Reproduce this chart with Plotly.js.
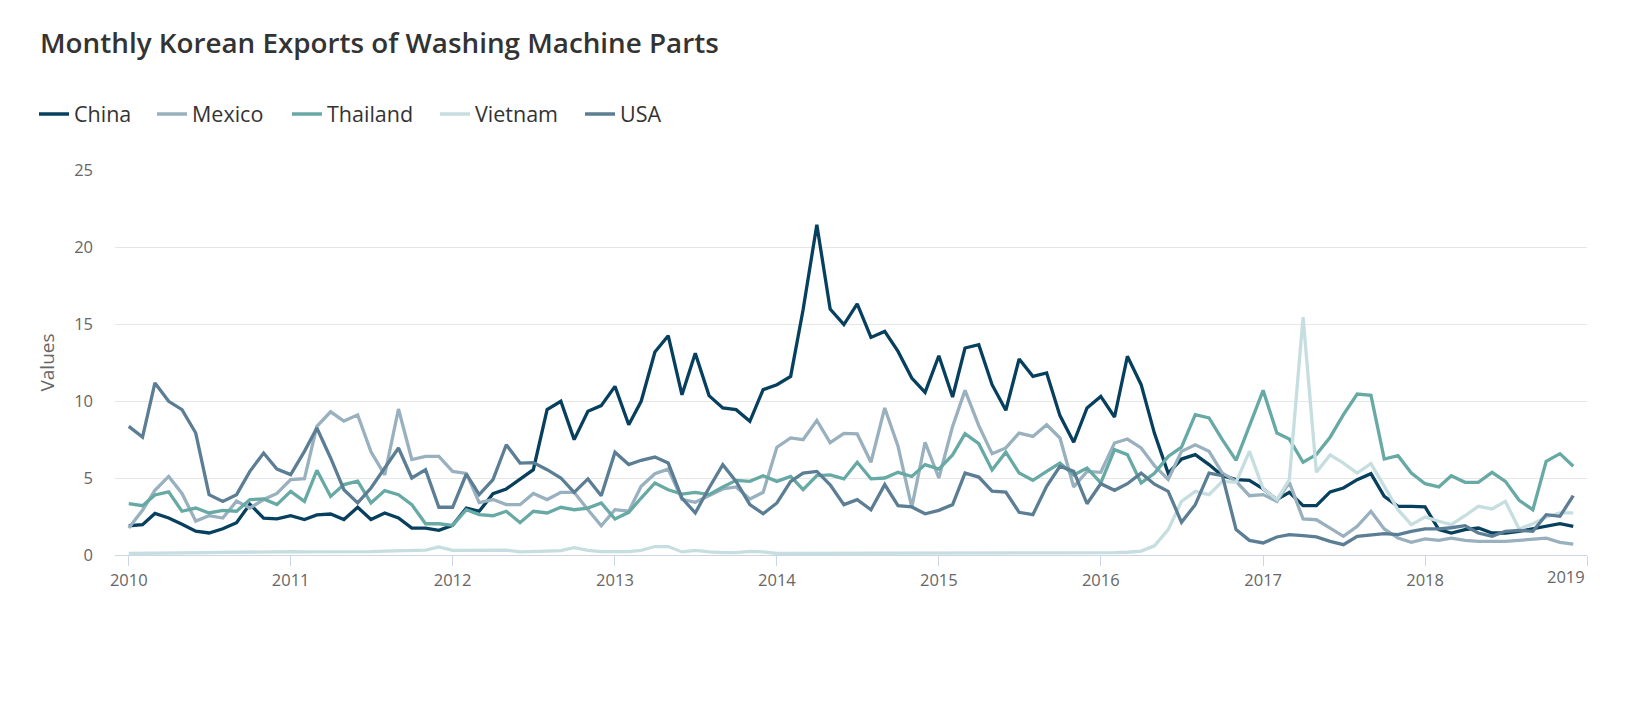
<!DOCTYPE html>
<html>
<head>
<meta charset="utf-8">
<script src="https://cdn.plot.ly/plotly-3.0.1.min.js"></script>
<style>
html,body{margin:0;padding:0;background:#fff;}
#chart{width:1626px;height:710px;}
</style>
</head>
<body>
<div id="chart"></div>
<script>
// Monthly series, Jan 2010 .. Dec 2018
var startYear = 2010;
var seriesNames = ["China", "Mexico", "Thailand", "Vietnam", "USA"];
var seriesColors = ["#07405e", "#99b0be", "#67a9a4", "#c6dedf", "#5b7e95"];
var yearTicks = ["2010", "2011", "2012", "2013", "2014", "2015", "2016", "2017", "2018", "2019"];

var china = [
  1.9, 1.97, 2.7, 2.4, 2.0, 1.55, 1.43, 1.7, 2.1, 3.3, 2.4, 2.34,
  2.55, 2.3, 2.6, 2.66, 2.3, 3.1, 2.3, 2.73, 2.4, 1.75, 1.75, 1.6,
  1.93, 3.05, 2.84, 3.98, 4.29, 4.94, 5.54, 9.44, 9.98, 7.49, 9.33, 9.7,
  10.95, 8.46, 9.98, 13.18, 14.24, 10.4, 13.1, 10.35, 9.55, 9.44, 8.68, 10.74,
  11.06, 11.6, 15.93, 21.45, 15.97, 14.96, 16.3, 14.13, 14.52, 13.22, 11.49, 10.56,
  12.94, 10.26, 13.44, 13.66, 11.06, 9.4, 12.73, 11.6, 11.82, 9.05, 7.32, 9.55,
  10.3, 8.96, 12.9, 11.06, 7.9, 5.3, 6.23, 6.52, 5.87, 5.15, 4.89, 4.85,
  4.29, 3.6, 4.07, 3.2, 3.2, 4.1, 4.35, 4.89, 5.28, 3.81, 3.16, 3.16,
  3.12, 1.65, 1.43, 1.65, 1.75, 1.43, 1.43, 1.54, 1.69, 1.86, 2.03, 1.86
];
var mexico = [
  1.75, 2.9, 4.2, 5.1, 4.0, 2.2, 2.55, 2.4, 3.5, 3.05, 3.6, 4.0,
  4.9, 4.95, 8.35, 9.3, 8.7, 9.1, 6.7, 5.2, 9.48, 6.2, 6.4, 6.4,
  5.43, 5.3, 3.4, 3.6, 3.27, 3.27, 4.0, 3.6, 4.07, 4.07, 2.94, 1.9,
  2.94, 2.84, 4.46, 5.28, 5.58, 3.62, 3.42, 3.85, 4.29, 4.42, 3.64, 4.07,
  7.0, 7.6, 7.49, 8.74, 7.3, 7.9, 7.86, 6.02, 9.55, 7.06, 3.1, 7.32,
  5.0, 8.35, 10.69, 8.4, 6.58, 6.95, 7.92, 7.7, 8.46, 7.6, 4.42, 5.43,
  5.37, 7.27, 7.53, 6.95, 5.8, 4.9, 6.73, 7.16, 6.73, 5.32, 4.78, 3.85,
  3.92, 3.48, 4.72, 2.34, 2.29, 1.75, 1.21, 1.86, 2.84, 1.69, 1.1, 0.82,
  1.04, 0.95, 1.1, 0.95, 0.89, 0.89, 0.89, 0.95, 1.04, 1.1, 0.82, 0.71
];
var thailand = [
  3.33, 3.2, 3.9, 4.1, 2.84, 3.05, 2.73, 2.9, 2.84, 3.6, 3.64, 3.27,
  4.13, 3.48, 5.5, 3.8, 4.57, 4.8, 3.38, 4.18, 3.92, 3.27, 2.03, 2.03,
  1.93, 2.94, 2.62, 2.55, 2.84, 2.1, 2.84, 2.73, 3.1, 2.94, 3.05, 3.38,
  2.34, 2.77, 3.7, 4.68, 4.24, 3.95, 4.07, 3.92, 4.42, 4.85, 4.78, 5.15,
  4.78, 5.1, 4.24, 5.15, 5.2, 4.94, 6.02, 4.94, 5.0, 5.37, 5.1, 5.87,
  5.58, 6.5, 7.88, 7.23, 5.52, 6.68, 5.32, 4.85, 5.43, 5.97, 5.2, 5.65,
  4.68, 6.84, 6.52, 4.68, 5.3, 6.4, 7.0, 9.11, 8.9, 7.49, 6.15, 8.35,
  10.69, 7.92, 7.53, 6.02, 6.52, 7.65, 9.11, 10.45, 10.37, 6.23, 6.45, 5.32,
  4.63, 4.42, 5.15, 4.72, 4.72, 5.37, 4.78, 3.55, 2.94, 6.08, 6.58, 5.76
];
var vietnam = [
  0.1, 0.1, 0.12, 0.12, 0.13, 0.14, 0.15, 0.17, 0.18, 0.2, 0.22, 0.25,
  0.22, 0.2, 0.2, 0.2, 0.18, 0.2, 0.22, 0.25, 0.28, 0.28, 0.32, 0.53,
  0.3, 0.3, 0.3, 0.32, 0.32, 0.2, 0.25, 0.25, 0.28, 0.48, 0.3, 0.22,
  0.22, 0.22, 0.3, 0.55, 0.55, 0.2, 0.3, 0.2, 0.16, 0.16, 0.23, 0.2,
  0.1, 0.1, 0.1, 0.1, 0.12, 0.12, 0.12, 0.13, 0.1, 0.1, 0.12, 0.12,
  0.15, 0.12, 0.1, 0.1, 0.1, 0.12, 0.1, 0.1, 0.12, 0.12, 0.12, 0.15,
  0.15, 0.15, 0.18, 0.25, 0.6, 1.65, 3.48, 4.13, 3.92, 4.78, 4.72, 6.73,
  4.3, 3.6, 4.9, 15.45, 5.37, 6.5, 5.97, 5.32, 5.93, 4.46, 2.94, 1.97,
  2.47, 2.19, 1.97, 2.55, 3.16, 2.99, 3.48, 1.69, 2.03, 2.47, 2.73, 2.73
];
var usa = [
  8.35, 7.66, 11.17, 9.98, 9.44, 7.92, 3.92, 3.48, 3.92, 5.43, 6.62, 5.58,
  5.22, 6.73, 8.25, 6.3, 4.24, 3.38, 4.35, 5.65, 6.95, 5.0, 5.54, 3.1,
  3.1, 5.26, 3.92, 4.9, 7.16, 5.97, 6.0, 5.54, 5.0, 4.07, 4.94, 3.85,
  6.67, 5.87, 6.15, 6.36, 5.97, 3.7, 2.73, 4.35, 5.87, 4.78, 3.27, 2.68,
  3.38, 4.78, 5.32, 5.43, 4.55, 3.27, 3.59, 2.94, 4.57, 3.2, 3.12, 2.68,
  2.9, 3.27, 5.32, 5.06, 4.15, 4.08, 2.77, 2.62, 4.46, 5.76, 5.43, 3.33,
  4.63, 4.2, 4.63, 5.32, 4.6, 4.13, 2.12, 3.27, 5.32, 5.15, 1.65, 0.95,
  0.78, 1.17, 1.32, 1.26, 1.17, 0.89, 0.67, 1.21, 1.32, 1.39, 1.32, 1.54,
  1.69, 1.69, 1.77, 1.9, 1.43, 1.21, 1.54, 1.6, 1.54, 2.62, 2.51, 3.85
];
var seriesValues = [china, mexico, thailand, vietnam, usa];

function monthDates(n) {
  var out = [];
  for (var i = 0; i < n; i++) {
    var y = startYear + Math.floor(i / 12);
    var m = (i % 12) + 1;
    out.push(y + "-" + (m < 10 ? "0" + m : m) + "-01");
  }
  return out;
}
var dates = monthDates(china.length);

function legendId(k) { return k === 0 ? "legend" : "legend" + (k + 1); }

var traces = seriesNames.map(function (name, k) {
  return {
    type: "scatter",
    mode: "lines",
    name: name,
    legend: legendId(k),
    x: dates,
    y: seriesValues[k],
    line: {color: seriesColors[k], width: 3.3},
    hoverinfo: "x+y+name"
  };
});

var tickVals = yearTicks.map(function (y) { return y + "-01-01"; });
var lastIdx = yearTicks.length - 1;
// last label is right-aligned to its tick, as in the original
var tickText = yearTicks.map(function (y, i) { return i === lastIdx ? "" : y; });

var W = 1626, H = 710;
function tickFont() { return {family: "'Open Sans', sans-serif", size: 16.5, color: "#666666"}; }

var layout = {
  width: W,
  height: H,
  paper_bgcolor: "#ffffff",
  plot_bgcolor: "#ffffff",
  font: {family: "'Open Sans', sans-serif", color: "#333333"},
  margin: {l: 115, r: 39, t: 170, b: 155, pad: 0},
  title: {
    text: "Monthly Korean Exports of Washing Machine Parts",
    font: {family: "'Open Sans', sans-serif", size: 27.8, color: "#333333", weight: 600},
    xref: "container", yref: "container",
    x: 40 / W, xanchor: "left",
    y: 1 - 43 / H, yanchor: "middle"
  },
  showlegend: true,
  xaxis: {
    type: "date",
    range: ["2009-12-01", "2019-01-01"],
    tickmode: "array",
    tickvals: tickVals,
    ticktext: tickText,
    showgrid: false,
    zeroline: false,
    showline: true,
    linecolor: "#ccd6eb",
    linewidth: 1,
    ticks: "outside",
    ticklen: 10,
    tickcolor: "#ccd6eb",
    tickfont: tickFont(),
    fixedrange: true
  },
  yaxis: {
    range: [0, 25],
    tick0: 0,
    dtick: 5,
    showgrid: true,
    gridcolor: "#e6e6e6",
    gridwidth: 1,
    zeroline: false,
    showline: false,
    ticks: "",
    ticklabelstandoff: 21,
    tickfont: tickFont(),
    title: {
      text: "Values",
      font: {family: "'Open Sans', sans-serif", size: 19, color: "#666666"},
      standoff: 14
    },
    fixedrange: true
  },
  annotations: [{
    xref: "x", yref: "paper",
    x: tickVals[lastIdx], y: 0,
    xanchor: "right", yanchor: "middle",
    yshift: -21,
    showarrow: false,
    text: yearTicks[lastIdx],
    font: tickFont()
  }]
};

// one legend box per series so each entry sits where the original places it
var legendLeft = [34, 152, 287, 435, 580];
seriesNames.forEach(function (name, k) {
  layout[legendId(k)] = {
    orientation: "h",
    xref: "container", yref: "container",
    x: legendLeft[k] / W, xanchor: "left",
    y: 1 - 114 / H, yanchor: "middle",
    font: {family: "'Open Sans', sans-serif", size: 21.5, color: "#333333"},
    itemwidth: 30,
    bgcolor: "rgba(0,0,0,0)"
  };
});

Plotly.newPlot("chart", traces, layout, {displayModeBar: false});
</script>
</body>
</html>
